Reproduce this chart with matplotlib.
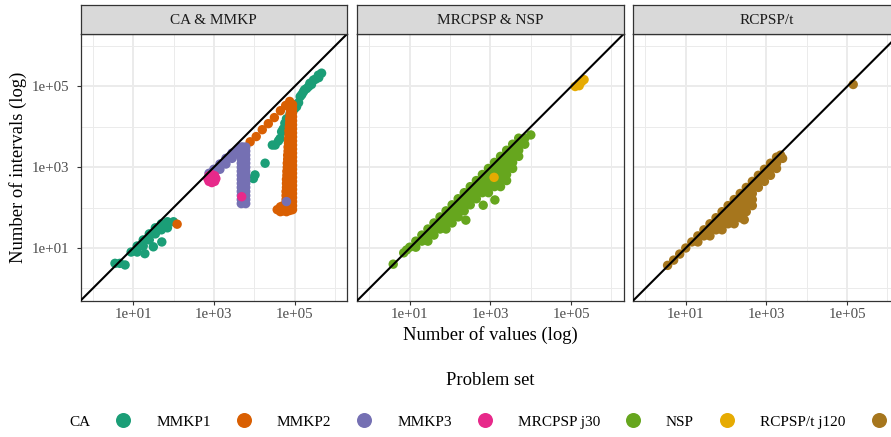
import numpy as np
import matplotlib
matplotlib.use('Agg')
import matplotlib.pyplot as plt
from matplotlib.lines import Line2D
from matplotlib.ticker import FixedLocator, NullFormatter

plt.rcParams['font.family'] = ['Liberation Serif', 'DejaVu Serif']

# problem sets, colours and facets
problem_sets = ['CA', 'MMKP1', 'MMKP2', 'MMKP3', 'MRCPSP j30', 'NSP', 'RCPSP/t j120']
set_colors = ['#1B9E77', '#D95F02', '#7570B3', '#E7298A', '#66A61E', '#E6AB02', '#A6761D']
facet_titles = ['CA & MMKP', 'MRCPSP & NSP', 'RCPSP/t']
facet_sets = [['CA', 'MMKP1', 'MMKP2', 'MMKP3'], ['MRCPSP j30', 'NSP'], ['RCPSP/t j120']]

major_breaks = [1e1, 1e3, 1e5]
major_labels = ['1e+01', '1e+03', '1e+05']
minor_breaks = [1e0, 1e2, 1e4, 1e6]
axis_limits = [10 ** -0.3, 10 ** 6.3]

# log10(number of values) / log10(number of intervals)
ca_log_values = [0.55, 0.67, 0.80, 0.95, 1.10, 1.25, 1.40, 1.55, 1.70, 1.85, 2.00,
                 1.10, 1.25, 1.40, 1.55, 1.70, 1.85, 1.29, 1.50, 1.71,
                 3.98, 4.02, 4.27, 4.45, 4.52, 4.60, 4.64, 4.68, 4.72, 4.76, 4.80, 4.89, 5.00,
                 5.05, 5.10, 5.14, 5.18, 5.22, 5.25, 5.30, 5.35, 5.38, 5.42, 5.47, 5.52, 5.59,
                 5.60, 5.67, 5.00]
ca_log_intervals = [0.62, 0.62, 0.58, 0.90, 1.05, 1.20, 1.35, 1.50, 1.60, 1.65, 1.65,
                    0.90, 1.05, 1.20, 1.35, 1.45, 1.50, 0.86, 1.03, 1.15,
                    2.72, 2.81, 3.10, 3.55, 3.55, 3.65, 3.71, 3.88, 3.95, 4.09, 4.20, 4.33, 4.45,
                    4.50, 4.60, 4.75, 4.80, 4.87, 4.92, 4.95, 5.00, 5.08, 5.05, 5.16, 5.18, 5.28,
                    5.22, 5.33, 4.55]

mmkp1_log_values = [2.09, 3.90, 4.05, 4.20, 4.35, 4.50, 4.65, 4.78, 4.88,
                    4.90, 4.90, 4.89, 4.88, 4.88, 4.87, 4.86, 4.86, 4.85, 4.85, 4.84, 4.84, 4.83,
                    4.83, 4.82, 4.82, 4.81, 4.81, 4.80, 4.80, 4.80, 4.79, 4.79, 4.79, 4.80,
                    4.95, 4.95, 4.95, 4.95, 4.95, 4.95, 4.95, 4.95, 4.95, 4.95, 4.95, 4.95, 4.95,
                    4.95, 4.95, 4.95, 4.95, 4.95, 4.95, 4.95, 4.95, 4.95, 4.95, 4.95, 4.95, 4.95,
                    4.57, 4.65, 4.72, 4.80, 4.88, 4.95, 4.65, 4.72]
mmkp1_log_intervals = [1.59, 3.63, 3.76, 3.93, 4.08, 4.23, 4.40, 4.53, 4.63,
                       4.50, 4.40, 4.30, 4.20, 4.10, 4.00, 3.90, 3.80, 3.70, 3.60, 3.50, 3.40, 3.30,
                       3.20, 3.10, 3.00, 2.90, 2.80, 2.70, 2.60, 2.50, 2.40, 2.30, 2.20, 2.10,
                       4.55, 4.45, 4.35, 4.25, 4.15, 4.05, 3.95, 3.85, 3.75, 3.65, 3.55, 3.45, 3.35,
                       3.25, 3.15, 3.05, 2.95, 2.85, 2.75, 2.65, 2.55, 2.45, 2.35, 2.25, 2.15, 2.05,
                       1.95, 1.90, 1.92, 1.90, 1.93, 1.95, 2.02, 2.05]

mmkp2_log_values = [2.88, 3.00, 3.15, 3.30, 3.45, 3.60, 3.72,
                    3.00, 3.15, 3.30, 3.45, 3.60,
                    3.68, 3.68, 3.68, 3.68, 3.68, 3.68, 3.68, 3.68, 3.68, 3.68, 3.68, 3.68, 3.68,
                    3.68, 3.68,
                    3.79, 3.79, 3.79, 3.79, 3.79, 3.79, 3.79, 3.79, 3.79, 3.79, 3.79, 3.79, 3.79,
                    3.79, 3.79,
                    4.80]
mmkp2_log_intervals = [2.85, 2.95, 3.08, 3.22, 3.35, 3.45, 3.50,
                       2.83, 2.95, 3.08, 3.22, 3.32,
                       3.50, 3.40, 3.30, 3.20, 3.10, 3.00, 2.90, 2.80, 2.70, 2.60, 2.50, 2.40, 2.30,
                       2.20, 2.10,
                       3.50, 3.40, 3.30, 3.20, 3.10, 3.00, 2.90, 2.80, 2.70, 2.60, 2.50, 2.40, 2.30,
                       2.20, 2.10,
                       2.15]

mmkp3_log_values = [2.85, 3.05, 2.95, 2.95, 2.95, 2.88, 3.02, 2.88, 3.02, 3.69]
mmkp3_log_intervals = [2.72, 2.72, 2.62, 2.82, 2.72, 2.65, 2.65, 2.79, 2.79, 2.27]

mrcpsp_log_values = [
    0.59, 0.85, 0.92,
    1.00, 1.15, 1.30, 1.45, 1.60, 1.75, 1.90, 2.05, 2.20, 2.35, 2.50, 2.65, 2.80, 2.95, 3.10,
    3.25, 3.40, 3.55, 3.70,
    1.15, 1.30, 1.45, 1.60, 1.75, 1.90, 2.05, 2.20, 2.35, 2.50, 2.65, 2.80, 2.95, 3.10, 3.25,
    3.40, 3.55, 3.70, 3.85, 4.00,
    1.45, 1.60, 1.75, 1.90, 2.05, 2.20, 2.35, 2.50, 2.65, 2.80, 2.95, 3.10, 3.25, 3.40, 3.55,
    3.70, 3.85,
    1.90, 2.05, 2.20, 2.35, 2.50, 2.65, 2.80, 2.95, 3.10, 3.25, 3.40, 3.55, 3.70,
    2.95, 3.10, 3.25, 3.40, 3.55,
    3.25, 3.40,
    2.39, 2.82, 3.11]
mrcpsp_log_intervals = [
    0.60, 0.88, 0.95,
    1.02, 1.17, 1.32, 1.47, 1.62, 1.77, 1.92, 2.07, 2.22, 2.37, 2.52, 2.67, 2.82, 2.97, 3.12,
    3.27, 3.42, 3.57, 3.72,
    1.02, 1.17, 1.32, 1.47, 1.62, 1.77, 1.92, 2.07, 2.22, 2.37, 2.52, 2.67, 2.82, 2.97, 3.12,
    3.27, 3.42, 3.57, 3.72, 3.80,
    1.17, 1.32, 1.47, 1.62, 1.77, 1.92, 2.07, 2.22, 2.37, 2.52, 2.67, 2.82, 2.97, 3.12, 3.27,
    3.42, 3.57,
    1.47, 1.62, 1.77, 1.92, 2.07, 2.22, 2.37, 2.52, 2.67, 2.82, 2.97, 3.12, 3.27,
    2.37, 2.52, 2.67, 2.82, 2.97,
    2.52, 2.67,
    1.69, 2.06, 2.19]

nsp_log_values = [5.10, 5.18, 5.26, 5.32, 5.20, 3.09]
nsp_log_intervals = [5.00, 5.06, 5.12, 5.17, 5.02, 2.75]

rcpspt_log_values = [
    0.55, 0.70, 0.85, 1.00, 1.15, 1.30, 1.45, 1.60, 1.75, 1.90, 2.05, 2.20, 2.35, 2.50, 2.65,
    2.80, 2.95, 3.10, 3.25, 3.35,
    1.30, 1.45, 1.60, 1.75, 1.90, 2.05, 2.20, 2.35, 2.50, 2.65, 2.80, 2.95, 3.10, 3.25, 3.40,
    1.60, 1.75, 1.90, 2.05, 2.20, 2.35, 2.50, 2.65, 2.80, 2.95, 3.10, 3.25,
    1.90, 2.05, 2.20, 2.35, 2.50, 2.65,
    2.20, 2.35, 2.50, 2.65,
    2.45,
    5.15]
rcpspt_log_intervals = [
    0.57, 0.70, 0.85, 1.00, 1.15, 1.30, 1.45, 1.60, 1.75, 1.90, 2.05, 2.20, 2.35, 2.50, 2.65,
    2.80, 2.95, 3.10, 3.25, 3.30,
    1.15, 1.30, 1.45, 1.60, 1.75, 1.90, 2.05, 2.20, 2.35, 2.50, 2.65, 2.80, 2.95, 3.10, 3.22,
    1.30, 1.45, 1.60, 1.75, 1.90, 2.05, 2.20, 2.35, 2.50, 2.65, 2.80, 2.97,
    1.45, 1.60, 1.75, 1.90, 2.05, 2.20,
    1.60, 1.75, 1.90, 2.05,
    1.70,
    5.05]

set_points = {
    'CA': (ca_log_values, ca_log_intervals),
    'MMKP1': (mmkp1_log_values, mmkp1_log_intervals),
    'MMKP2': (mmkp2_log_values, mmkp2_log_intervals),
    'MMKP3': (mmkp3_log_values, mmkp3_log_intervals),
    'MRCPSP j30': (mrcpsp_log_values, mrcpsp_log_intervals),
    'NSP': (nsp_log_values, nsp_log_intervals),
    'RCPSP/t j120': (rcpspt_log_values, rcpspt_log_intervals),
}
color_of = dict(zip(problem_sets, set_colors))

W, H = 891, 437
fig = plt.figure(figsize=(W / 100, H / 100), dpi=100)

panel_lefts = [80.7, 357.3, 633.3]
panel_w = 266.3
panel_top, panel_bottom = 34, 300.5
strip_top = 5

for k, (title, sets) in enumerate(zip(facet_titles, facet_sets)):
    left = panel_lefts[k] / W
    ax = fig.add_axes([left, 1 - panel_bottom / H, panel_w / W, (panel_bottom - panel_top) / H])
    ax.set_xscale('log')
    ax.set_yscale('log')
    ax.set_xlim(axis_limits)
    ax.set_ylim(axis_limits)

    for axis in (ax.xaxis, ax.yaxis):
        axis.set_major_locator(FixedLocator(major_breaks))
        axis.set_minor_locator(FixedLocator(minor_breaks))
        axis.set_minor_formatter(NullFormatter())

    ax.grid(True, which='major', color='#EBEBEB', lw=1.4, zorder=0)
    ax.grid(True, which='minor', color='#EBEBEB', lw=0.7, zorder=0)
    ax.set_axisbelow(True)
    ax.tick_params(which='major', length=3.2, width=0.8, color='#333333',
                   labelcolor='#4D4D4D', labelsize=10.7)
    ax.tick_params(axis='x', which='major', pad=2.5)
    ax.tick_params(axis='y', which='major', pad=5)
    ax.tick_params(which='minor', length=0)
    ax.set_xticklabels(major_labels)
    if k == 0:
        ax.set_yticklabels(major_labels)
    else:
        ax.set_yticklabels([])
        ax.tick_params(axis='y', which='major', length=0)
    for sp in ax.spines.values():
        sp.set_color('#333333')
        sp.set_linewidth(0.9)

    for s in sets:
        lx, ly = set_points[s]
        ax.scatter(10 ** np.array(lx), 10 ** np.array(ly), s=46, color=color_of[s],
                   edgecolors='none', zorder=2)

    ax.plot(axis_limits, axis_limits, color='black', lw=1.5, zorder=3)

    # facet strip
    sax = fig.add_axes([left, 1 - panel_top / H, panel_w / W, (panel_top - strip_top) / H])
    sax.set_facecolor('#D9D9D9')
    sax.set_xticks([])
    sax.set_yticks([])
    for sp in sax.spines.values():
        sp.set_color('#333333')
        sp.set_linewidth(0.9)
    sax.text(0.5, 0.45, title, ha='center', va='center', fontsize=11, color='#1A1A1A',
             transform=sax.transAxes)

fig.text(18.5 / W, 1 - 167 / H, 'Number of intervals (log)', rotation=90,
         ha='center', va='center', fontsize=13.4)
fig.text(490 / W, 1 - 335 / H, 'Number of values (log)', ha='center', va='center', fontsize=13.4)
fig.text(490 / W, 1 - 380.7 / H, 'Problem set', ha='center', va='center', fontsize=13.4)

handles = [Line2D([], [], marker='o', ls='', color=c, markersize=10.8, markeredgewidth=0)
           for c in set_colors]
fig.legend(handles, problem_sets, loc='center left', bbox_to_anchor=(69 / W, 1 - 421.7 / H),
           ncol=len(problem_sets), frameon=False, markerfirst=False, fontsize=11,
           handlelength=1.0, handletextpad=1.68, columnspacing=1.64, borderpad=0,
           borderaxespad=0)

fig.savefig('out.png', dpi=100)
